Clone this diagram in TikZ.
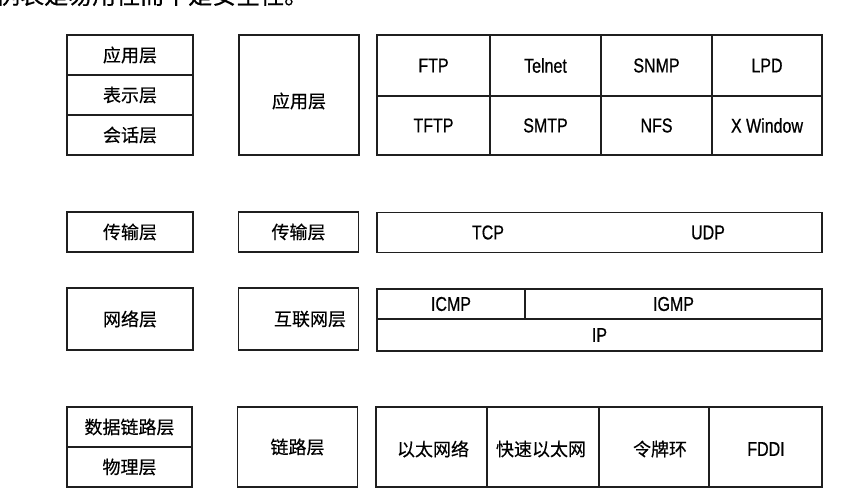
\documentclass[tikz,border=0pt]{standalone}
\usepackage{fontspec}
\setmainfont[FakeStretch=0.8,FakeBold=0.6]{Liberation Sans}
\newfontfamily\cjk[FakeBold=0.4]{Noto Sans CJK SC}
\begin{document}
\begin{tikzpicture}[x=1pt,y=-1pt,
  box/.style={draw=black!88, line width=1.1pt, inner sep=0pt, rectangle},
  lat/.style={font=\fontsize{20}{20}\selectfont},
  zh/.style={font=\fontsize{18}{18}\selectfont\cjk},
  lbl/.style={inner sep=0pt}]
\useasboundingbox (0,0) rectangle (862,496);
\clip (0,0) rectangle (862,496);
\fill[white] (0,0) rectangle (862,496);
% cut-off caption line at the top
\node[lbl, anchor=base west, font=\fontsize{24}{24}\selectfont\cjk] (cap) at (-4,4) {例表是易用性而不是安全性。};

% ---- Row 1: application
\node[box, zh, minimum width=126pt, minimum height=40pt] (osiApp)  at (130,55)  {应用层};
\node[box, zh, minimum width=126pt, minimum height=40pt] (osiPres) at (130,95)  {表示层};
\node[box, zh, minimum width=126pt, minimum height=40pt] (osiSess) at (130,135) {会话层};
\node[box, minimum width=120pt, minimum height=120pt] (tcpApp) at (299,95) {};
\node[lbl, zh] (tcpAppT) at (299,101) {应用层};

\node[box, lat, minimum width=113pt, minimum height=61pt] (ftp)    at (433.5,65.5) {FTP};
\node[box, lat, minimum width=111pt, minimum height=61pt] (telnet) at (545.5,65.5) {Telnet};
\node[box, lat, minimum width=111pt, minimum height=61pt] (snmp)   at (656.5,65.5) {SNMP};
\node[box, lat, minimum width=110pt, minimum height=61pt] (lpd)    at (767,65.5)   {LPD};
\node[box, lat, minimum width=113pt, minimum height=59pt] (tftp)   at (433.5,125.5) {TFTP};
\node[box, lat, minimum width=111pt, minimum height=59pt] (smtp)   at (545.5,125.5) {SMTP};
\node[box, lat, minimum width=111pt, minimum height=59pt] (nfs)    at (656.5,125.5) {NFS};
\node[box, lat, minimum width=110pt, minimum height=59pt] (xwin)   at (767,125.5)   {X Window};

% ---- Row 2: transport
\node[box, zh, minimum width=126pt, minimum height=40pt] (osiTrans) at (130,232) {传输层};
\node[box, zh, minimum width=120pt, minimum height=40pt] (tcpTrans) at (298.5,232) {传输层};
\node[box, minimum width=445pt, minimum height=40pt] (tu) at (599.5,232.5) {};
\node[lbl, lat] (tcp) at (488,232.5) {TCP};
\node[lbl, lat] (udp) at (708,232.5) {UDP};

% ---- Row 3: network
\node[box, zh, minimum width=126pt, minimum height=62pt] (osiNet) at (130,319) {网络层};
\node[box, minimum width=120pt, minimum height=62pt] (tcpNet) at (298.5,319) {};
\node[lbl, zh] (tcpNetT) at (310,319) {互联网层};
\node[box, lat, minimum width=148pt, minimum height=30pt] (icmp) at (451,304) {ICMP};
\node[box, lat, minimum width=297pt, minimum height=30pt] (igmp) at (673.5,304) {IGMP};
\node[box, lat, minimum width=445pt, minimum height=32pt] (ip) at (599.5,335) {IP};

% ---- Row 4: link
\node[box, zh, minimum width=125pt, minimum height=40pt] (osiDL)  at (129.5,427) {数据链路层};
\node[box, zh, minimum width=125pt, minimum height=40pt] (osiPhy) at (129.5,467) {物理层};
\node[box, zh, minimum width=120pt, minimum height=80pt] (tcpLink) at (297.5,447) {链路层};
\node[box, minimum width=111pt, minimum height=80pt] (eth)  at (431.5,447) {};
\node[box, minimum width=112pt, minimum height=80pt] (feth) at (543,447) {};
\node[box, minimum width=110pt, minimum height=80pt] (tr)   at (654,447) {};
\node[box, minimum width=113pt, minimum height=80pt] (fddi) at (765.5,447) {};
\node[lbl, zh]  (ethT)  at (433,449) {以太网络};
\node[lbl, zh]  (fethT) at (541,449) {快速以太网};
\node[lbl, zh]  (trT)   at (660,449) {令牌环};
\node[lbl, lat] (fddiT) at (766,449) {FDDI};
\end{tikzpicture}
\end{document}
